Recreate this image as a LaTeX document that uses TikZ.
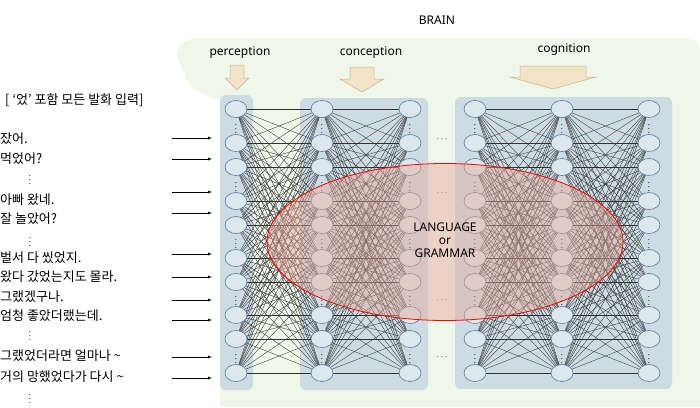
\documentclass[tikz,border=0pt]{standalone}
\usepackage{fontspec}
\usetikzlibrary{shapes.geometric}
\setmainfont{Noto Sans}
\newfontfamily\kr{Noto Sans CJK KR}
\definecolor{panelc}{HTML}{CCDCE2}
\definecolor{brainc}{HTML}{EFF6EA}
\definecolor{nodef}{HTML}{DCE8EE}
\definecolor{nodeb}{HTML}{5A78A0}
\definecolor{blkf}{HTML}{F2E2C6}
\definecolor{blkd}{HTML}{C9B591}
\definecolor{ellf}{HTML}{E8A898}
\begin{document}
\begin{tikzpicture}[x=1pt,y=-1pt,
  neuron/.style={draw=nodeb,fill=nodef,ellipse,minimum width=22pt,minimum height=17pt,inner sep=0pt,line width=0.6pt},
  panel/.style={fill=panelc,rounded corners=6pt},
  wire/.style={line width=0.35pt,black!80},
  inarr/.style={-latex,line width=0.4pt},
  blk/.style={fill=blkf,draw=blkd,line width=0.5pt},
  lbl/.style={font=\kr\fontsize{13}{14}\selectfont,anchor=west,inner sep=0pt},
  vd/.style={font=\fontsize{8}{8}\selectfont,inner sep=0pt}]
\useasboundingbox (0,0) rectangle (700,407);
% green brain background
\fill[brainc] (220,407) -- (220,100) .. controls (205,96) and (190,90) .. (185,75) -- (178,60) .. controls (174,45) and (185,38) .. (205,38) -- (675,38) .. controls (700,38) and (700,40) .. (700,60) -- (700,407) -- cycle;
\node (brain) at (437,20) {\fontsize{12}{13}\selectfont BRAIN};
\node (perc) at (240,53) {\fontsize{12}{13}\selectfont perception};
\node (conc) at (371,53) {\fontsize{12}{13}\selectfont conception};
\node (cogn) at (564,50) {\fontsize{12}{13}\selectfont cognition};
\draw[blk] (230,65) -- (244,65) -- (244,78) -- (249,78) -- (237,90) -- (225,78) -- (230,78) -- cycle;
\draw[blk] (350,67) -- (374,67) -- (374,79) -- (384,79) -- (362,92) -- (340,79) -- (350,79) -- cycle;
\draw[blk] (520,66) -- (586,66) -- (586,77) -- (596,77) -- (553,89) -- (510,77) -- (520,77) -- cycle;
% panels
\fill[panel] (220,95) rectangle (253,390);
\fill[panel] (300,98) rectangle (428,390);
\fill[panel] (455,97) rectangle (672,389);
% neurons
\foreach \c/\x in {1/236,2/322,3/410,4/475,5/562,6/649}{
  \foreach \y [count=\i] in {109,143,167,201,225,258,282,315,339,373}{
    \coordinate (p\c-\i) at (\x,\y);
  }
}
\foreach \a/\b in {1/2,2/3,4/5,5/6}{
  \foreach \i in {1,...,10}{\foreach \j in {1,...,10}{
    \draw[wire] (p\a-\i) -- (p\b-\j);
  }}
}
\foreach \c in {1,...,6}{
  \foreach \i in {1,...,10}{\node[neuron] (n\c-\i) at (p\c-\i) {};}
  \foreach \y in {126,184,241,298,356}{\node[vd] (d\c-\y) at (p\c-1 |- 0,\y) {$\vdots$};}
}
\foreach \y [count=\k] in {139,193,300,357}{\node[font=\small,inner sep=0pt] (h\k) at (442,\y) {$\cdots$};}
% ellipse
\node[draw=red,line width=0.8pt,fill=ellf,fill opacity=0.45,ellipse,minimum width=356pt,minimum height=157pt] (lang) at (445,242) {};
\node[font=\fontsize{12}{13}\selectfont\bfseries,align=center] (langt) at (445,240) {LANGUAGE\\or\\GRAMMAR};
% texts
\node[lbl] (title) at (5,100) {[ ‘었’ 포함 모든 발화 입력]};
\foreach \t/\y in {잤어./139,먹었어?/159,아빠 왔네./200,잘 놀았어?/219,벌서 다 씼었지./258,왔다 갔었는지도 몰라./277,그랬겠구나./297,엄청 좋았더랬는데./316,그랬었더라면 얼마나 \textasciitilde/356,거의 망했었다가 다시 \textasciitilde/377}{
  \node[lbl] (t\y) at (0,\y) {\t};
}
\foreach \y in {177,239,333,396}{\node[vd] (v\y) at (30,\y) {$\vdots$};}
\foreach \y in {138,159,192,213,254,277,300,320,357,378}{
  \coordinate (s\y) at (172,\y); \coordinate (e\y) at (212,\y);
  \draw[inarr] (s\y) -- (e\y);
}
\end{tikzpicture}
\end{document}
